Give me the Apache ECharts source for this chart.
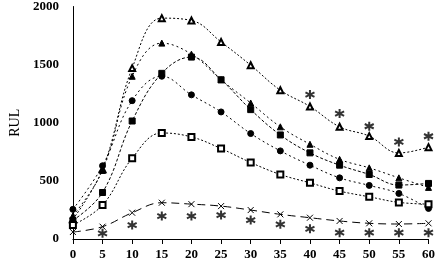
<!DOCTYPE html>
<html lang="en">
<head>
    <meta charset="UTF-8">
    <title>RUL chart</title>
    <style>
        body { margin: 0; background: #fff; }
        #chart { width: 438px; height: 266px; }
    </style>
    <script src="https://cdn.jsdelivr.net/npm/echarts@6/dist/echarts.min.js"></script>
</head>
<body>
<div id="chart"></div>
<script>
    // x positions
    const xValues = [0, 5, 10, 15, 20, 25, 30, 35, 40, 45, 50, 55, 60];

    // series values
    const openTriangle = [170, 600, 1470, 1900, 1880, 1695, 1495, 1280, 1140, 965, 885, 740, 790];
    const filledTriangle = [200, 590, 1400, 1685, 1590, 1370, 1170, 965, 815, 685, 612, 526, 444];
    const filledSquare = [160, 400, 1015, 1425, 1565, 1370, 1113, 895, 741, 635, 555, 464, 478];
    const filledCircle = [255, 630, 1190, 1400, 1240, 1093, 907, 758, 635, 526, 461, 392, 263];
    const openSquare = [120, 292, 695, 912, 878, 778, 658, 555, 483, 412, 363, 315, 300];
    const crossLine = [60, 106, 226, 312, 300, 283, 249, 212, 183, 155, 135, 129, 135];
    const starLow = [null, 49, 120, 197, 197, 206, 163, 126, 88, 54, 54, 54, 54];
    const starHigh = [null, null, null, null, null, null, null, null, 1242, 1079, 970, 835, 884];

    const yTicks = [0, 500, 1000, 1500, 2000];

    const font = 'Liberation Serif';
    const pair = arr => xValues.map((x, i) => [x, arr[i]]);

    const crossPath = 'path://M0,0L10,10M10,0L0,10';
    const starPath = 'path://M5,0L5,10M0,2.5L10,7.5M10,2.5L0,7.5';

    function lineSeries(data, symbol, dash, size) {
        return {
            type: 'line',
            data: pair(data),
            smooth: 0.4,
            symbol: symbol,
            symbolSize: size || 6,
            lineStyle: { color: '#000', width: 1, type: dash },
            itemStyle: { color: '#000', borderColor: '#000', borderWidth: 1 },
            z: 3
        };
    }

    function starSeries(data) {
        return {
            type: 'scatter',
            data: pair(data).filter(d => d[1] != null),
            symbol: starPath,
            symbolSize: 9,
            itemStyle: { color: 'none', borderColor: '#000', borderWidth: 2 }
        };
    }

    const chart = echarts.init(document.getElementById('chart'));
    chart.setOption({
        animation: false,
        grid: { left: 60, right: 6, top: 6, bottom: 27 },
        xAxis: {
            type: 'value',
            min: 0, max: 60, interval: 5,
            axisLine: { lineStyle: { color: '#000', width: 1 } },
            axisTick: { show: true, length: 5, lineStyle: { color: '#000' } },
            axisLabel: { color: '#000', fontFamily: font, fontSize: 13, fontWeight: 'bold', margin: 9 },
            splitLine: { show: false }
        },
        yAxis: {
            type: 'value',
            min: 0, max: 2000, interval: 500,
            name: 'RUL',
            nameLocation: 'middle',
            nameGap: 47,
            nameRotate: 90,
            nameTextStyle: { color: '#000', fontFamily: font, fontSize: 14 },
            axisLine: { show: true, lineStyle: { color: '#000', width: 1 } },
            axisTick: { show: false },
            axisLabel: {
                color: '#000', fontFamily: font, fontSize: 13, fontWeight: 'bold', margin: 14,
                formatter: v => yTicks.includes(v) ? String(v) : ''
            },
            splitLine: { show: false }
        },
        series: [
            lineSeries(openTriangle, 'emptyTriangle', [2, 2]),
            lineSeries(filledTriangle, 'triangle', [2, 3]),
            lineSeries(filledSquare, 'rect', [3, 2]),
            lineSeries(filledCircle, 'circle', [2, 3]),
            lineSeries(openSquare, 'emptyRect', [2, 2]),
            Object.assign(lineSeries(crossLine, crossPath, [8, 5], 6), {
                itemStyle: { color: 'none', borderColor: '#000', borderWidth: 1 }
            }),
            starSeries(starLow),
            starSeries(starHigh)
        ]
    });
</script>
</body>
</html>
